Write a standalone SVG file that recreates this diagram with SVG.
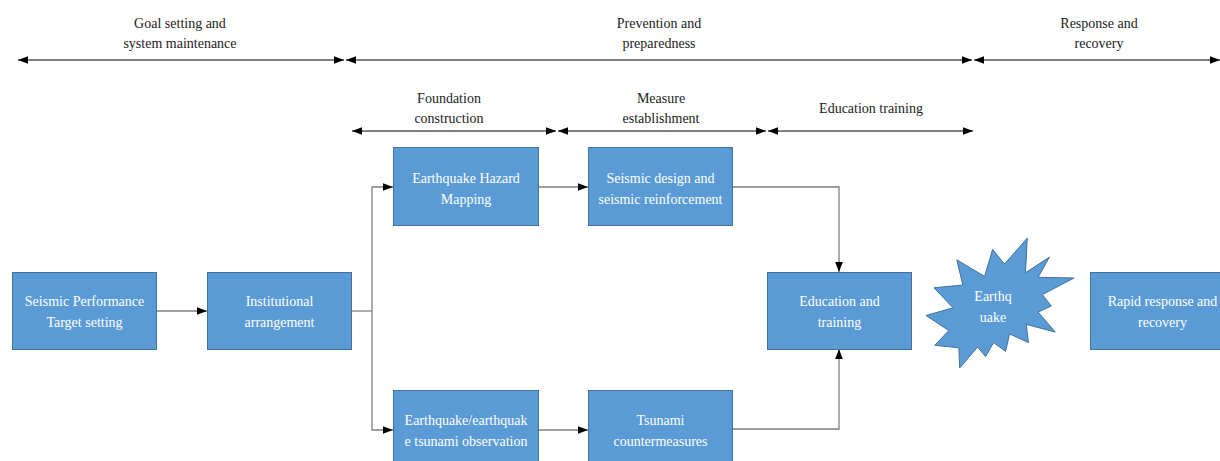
<svg xmlns="http://www.w3.org/2000/svg" width="1220" height="461" viewBox="0 0 1220 461" font-family="'Liberation Serif', 'DejaVu Serif', serif">
  <style>
    .box { fill: #5B9BD5; stroke: #41719C; stroke-width: 1; }
    text { font-family: 'Liberation Serif', 'DejaVu Serif', serif; font-size: 14px; text-anchor: middle; }
    .bt { fill: #ffffff; }
    .lbl { fill: #222222; }
    .tl { stroke: #000000; stroke-width: 1; fill: none; }
    .cn { stroke: #7f7f7f; stroke-width: 1.3; fill: none; }
  </style>
  <defs>
    <marker id="ah" markerUnits="userSpaceOnUse" markerWidth="10" markerHeight="10" viewBox="0 0 10 10" refX="10" refY="5" orient="auto-start-reverse">
      <path d="M0,1.2 L10,5 L0,8.8 Z" fill="#000000"/>
    </marker>
  </defs>

  <rect width="1220" height="461" fill="#ffffff"/>

  <g id="timeline">
    <line class="tl" x1="18" y1="60" x2="344" y2="60" marker-start="url(#ah)" marker-end="url(#ah)"/>
    <line class="tl" x1="346" y1="60" x2="972" y2="60" marker-start="url(#ah)" marker-end="url(#ah)"/>
    <line class="tl" x1="974" y1="60" x2="1220" y2="60" marker-start="url(#ah)" marker-end="url(#ah)"/>
    <line class="tl" x1="352" y1="131" x2="556" y2="131" marker-start="url(#ah)" marker-end="url(#ah)"/>
    <line class="tl" x1="558" y1="131" x2="766" y2="131" marker-start="url(#ah)" marker-end="url(#ah)"/>
    <line class="tl" x1="768" y1="131" x2="973" y2="131" marker-start="url(#ah)" marker-end="url(#ah)"/>
    <text class="lbl" x="180" y="28">Goal setting and</text>
    <text class="lbl" x="180" y="48">system maintenance</text>
    <text class="lbl" x="659" y="28">Prevention and</text>
    <text class="lbl" x="659" y="48">preparedness</text>
    <text class="lbl" x="1099" y="28">Response and</text>
    <text class="lbl" x="1099" y="48">recovery</text>
    <text class="lbl" x="449" y="103">Foundation</text>
    <text class="lbl" x="449" y="123">construction</text>
    <text class="lbl" x="661" y="103">Measure</text>
    <text class="lbl" x="661" y="123">establishment</text>
    <text class="lbl" x="871" y="113">Education training</text>
  </g>

  <g id="connectors">
    <line class="cn" x1="157" y1="311" x2="207" y2="311" marker-end="url(#ah)"/>
    <polyline class="cn" points="351,311 372,311"/>
    <polyline class="cn" points="372,311 372,187 393,187" marker-end="url(#ah)"/>
    <polyline class="cn" points="372,311 372,430 393,430" marker-end="url(#ah)"/>
    <line class="cn" x1="538" y1="187" x2="588" y2="187" marker-end="url(#ah)"/>
    <line class="cn" x1="538" y1="430" x2="588" y2="430" marker-end="url(#ah)"/>
    <polyline class="cn" points="732,187 839,187 839,272" marker-end="url(#ah)"/>
    <polyline class="cn" points="732,429 839,429 839,349" marker-end="url(#ah)"/>
  </g>

  <g id="n-target">
    <rect class="box" x="12.5" y="272.5" width="144" height="77"/>
    <text class="bt" x="84.5" y="306">Seismic Performance</text>
    <text class="bt" x="84.5" y="327">Target setting</text>
  </g>
  <g id="n-institutional">
    <rect class="box" x="207.5" y="272.5" width="144" height="77"/>
    <text class="bt" x="279.5" y="306">Institutional</text>
    <text class="bt" x="279.5" y="327">arrangement</text>
  </g>
  <g id="n-hazard">
    <rect class="box" x="393.5" y="147.5" width="145" height="78"/>
    <text class="bt" x="466" y="183">Earthquake Hazard</text>
    <text class="bt" x="466" y="204">Mapping</text>
  </g>
  <g id="n-seismic-design">
    <rect class="box" x="588.5" y="147.5" width="144" height="78"/>
    <text class="bt" x="660.5" y="183">Seismic design and</text>
    <text class="bt" x="660.5" y="204">seismic reinforcement</text>
  </g>
  <g id="n-observation">
    <rect class="box" x="393.5" y="390.5" width="145" height="78"/>
    <text class="bt" x="466" y="425">Earthquake/earthquak</text>
    <text class="bt" x="466" y="446">e tsunami observation</text>
  </g>
  <g id="n-tsunami">
    <rect class="box" x="588.5" y="390.5" width="144" height="78"/>
    <text class="bt" x="660.5" y="425">Tsunami</text>
    <text class="bt" x="660.5" y="446">countermeasures</text>
  </g>
  <g id="n-education">
    <rect class="box" x="767.5" y="272.5" width="144" height="77"/>
    <text class="bt" x="839.5" y="306">Education and</text>
    <text class="bt" x="839.5" y="327">training</text>
  </g>
  <g id="n-earthquake">
    <polygon class="box" points="1004.5,264.1 1027.3,238 1025.5,272.8 1049.4,257.1 1038.2,277.3 1074,278 1042.4,294.6 1051.2,306 1038.2,312.1 1055.3,332.1 1026.3,324.4 1028.4,342.5 1009.5,333.9 1005.6,351.4 993.6,342.5 985.6,356.6 977.6,347.1 959.7,368 958.9,347.8 934.8,345.3 948.8,330.5 926,315.5 953,307.8 934,287.8 962.8,285 956.8,259.8 984.6,276.4 992.6,249.4"/>
    <text class="bt" x="993" y="301">Earthq</text>
    <text class="bt" x="993" y="322">uake</text>
  </g>
  <g id="n-response">
    <rect class="box" x="1090.5" y="272.5" width="144" height="77"/>
    <text class="bt" x="1162.5" y="306">Rapid response and</text>
    <text class="bt" x="1162.5" y="327">recovery</text>
  </g>
</svg>
